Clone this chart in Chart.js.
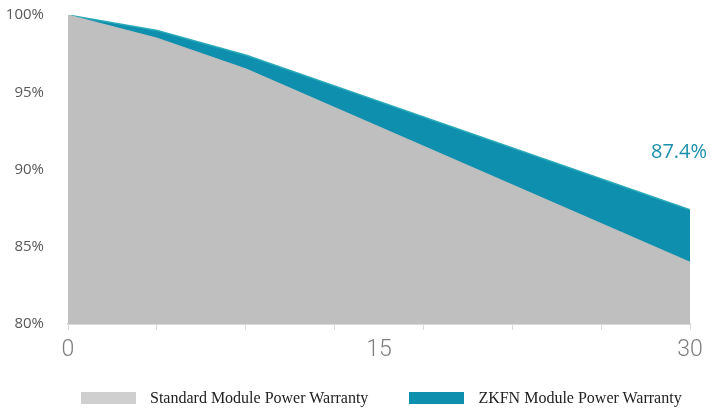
<!DOCTYPE html>
<html>
<head>
<meta charset="utf-8">
<script src="https://cdn.jsdelivr.net/npm/chart.js@4.4.1/dist/chart.umd.min.js"></script>
<style>
  html, body { margin: 0; padding: 0; background: #fff; }
  #wrap { position: relative; width: 725px; height: 408px; }
  #legend { position: absolute; left: 81px; top: 389px; display: flex; align-items: center;
            font-family: "Liberation Serif", "Times New Roman", serif; font-size: 16px; color: #222; }
  .item { display: flex; align-items: center; }
  .box { width: 55px; height: 12px; margin-right: 14px; }
  .item + .item { margin-left: 41px; }
</style>
</head>
<body>
<div id="wrap">
  <canvas id="warrantyChart" width="725" height="408"></canvas>
  <div id="legend"></div>
</div>
<script>
// years where the lines bend, and the warranted output (%) there
const years = [0, 4.3, 8.6, 30];
const standardValues = [100, 98.5, 96.5, 84.0];
const zkfnValues = [100, 99.0, 97.4, 87.4];
const xTickLabels = [0, 15, 30];
const xTickMarks = [0, 30 / 7, 60 / 7, 90 / 7, 120 / 7, 150 / 7, 180 / 7, 30];
const seriesNames = ['Standard Module Power Warranty', 'ZKFN Module Power Warranty'];

const grey = '#bfbfbf';
const teal = '#0f8fae';

// label over the last ZKFN point
const endLabel = {
    id: 'endLabel',
    afterDatasetsDraw(chart) {
        const meta = chart.getDatasetMeta(1);
        const pt = meta.data[meta.data.length - 1];
        const ctx = chart.ctx;
        ctx.save();
        ctx.font = '20px "Open Sans"';
        ctx.fillStyle = '#1b8fad';
        ctx.textAlign = 'center';
        ctx.textBaseline = 'alphabetic';
        ctx.fillText(zkfnValues[zkfnValues.length - 1].toFixed(1) + '%', pt.x - 11, pt.y - 52);
        ctx.restore();
    }
};

const ctx = document.getElementById('warrantyChart').getContext('2d');
const chart = new Chart(ctx, {
    type: 'line',
    data: {
        datasets: [{
            label: seriesNames[0],
            data: years.map((x, i) => ({ x: x, y: standardValues[i] })),
            backgroundColor: grey,
            borderColor: grey,
            borderWidth: 1,
            fill: 'start',
            pointRadius: 0,
            tension: 0
        }, {
            label: seriesNames[1],
            data: years.map((x, i) => ({ x: x, y: zkfnValues[i] })),
            backgroundColor: teal,
            borderColor: '#2aaab8',
            borderWidth: 1.5,
            fill: 'start',
            pointRadius: 0,
            tension: 0
        }]
    },
    options: {
        responsive: false,
        animation: false,
        layout: { padding: { top: 15, right: 35, bottom: 44, left: 0 } },
        plugins: {
            legend: { display: false },
            tooltip: { enabled: false }
        },
        scales: {
            x: {
                type: 'linear',
                min: 0,
                max: 30,
                afterBuildTicks: (scale) => {
                    const vals = xTickMarks.concat([15]).sort((a, b) => a - b);
                    scale.ticks = vals.map(v => ({ value: v }));
                },
                afterFit: (scale) => {
                    scale.height = 40;
                    scale.paddingLeft = 0;
                    scale.paddingRight = 0;
                },
                border: { display: true, color: '#d9d9d9', width: 2 },
                grid: {
                    drawOnChartArea: false,
                    tickLength: 6,
                    color: (c) => (c.tick && c.tick.value === 15) ? 'rgba(0,0,0,0)' : '#d9d9d9'
                },
                ticks: {
                    autoSkip: false,
                    maxRotation: 0,
                    padding: 6,
                    color: '#7f7f7f',
                    font: { family: 'Roboto', size: 23, weight: 300 },
                    callback: (v) => xTickLabels.includes(v) ? String(v) : ''
                }
            },
            y: {
                min: 80,
                max: 100,
                afterFit: (scale) => {
                    scale.width = 68;
                    scale.paddingTop = 0;
                    scale.paddingBottom = 0;
                },
                border: { display: false },
                grid: { display: false },
                ticks: {
                    stepSize: 5,
                    padding: 16,
                    color: '#595959',
                    font: { family: '"Open Sans"', size: 15 },
                    callback: (v) => v + '%'
                }
            }
        }
    },
    plugins: [endLabel]
});

// legend below the chart, built from the datasets
document.getElementById('legend').innerHTML = chart.data.datasets.map(ds =>
    `<div class="item"><span class="box" style="background:${ds.backgroundColor === grey ? '#cfcfcf' : ds.backgroundColor}"></span>${ds.label}</div>`
).join('');
</script>
</body>
</html>
